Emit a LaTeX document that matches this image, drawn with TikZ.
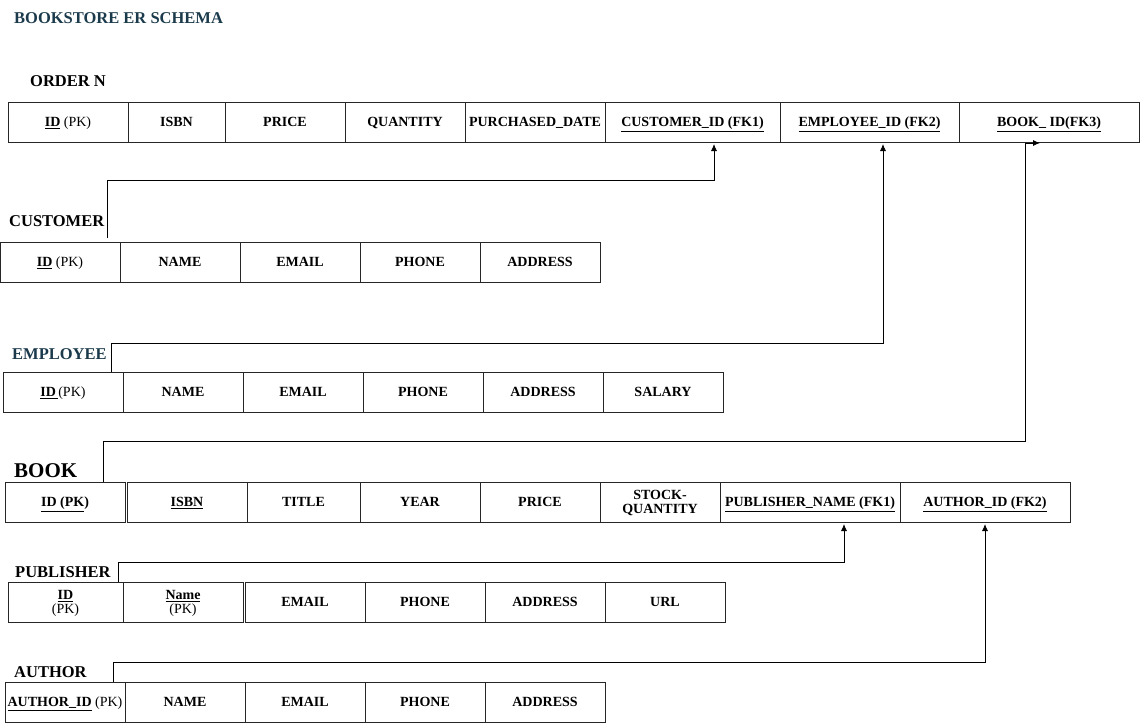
\documentclass[tikz,border=0pt]{standalone}
\usepackage{fontspec}
\setmainfont{Liberation Serif}
\usepackage{tikz}
\usetikzlibrary{positioning, arrows.meta}
\definecolor{titleteal}{HTML}{1B3A4B}

\begin{document}
\begin{tikzpicture}[
  x=1pt, y=-1pt,
  node distance=0pt and 0pt,
  attr/.style={draw=black!85, line width=0.9pt, outer sep=0pt, inner sep=1pt,
    minimum height=40pt, align=center, text height=9.3pt, text depth=0pt,
    font=\fontsize{14}{14}\selectfont\bfseries},
  twoline/.style={text height={}},
  lbl/.style={anchor=west, inner sep=0pt, font=\fontsize{16.5}{18}\selectfont\bfseries},
  fk/.style={-{Latex[length=7pt,width=6pt]}, line width=0.8pt, shorten >=2pt}
]
\useasboundingbox (0,0) rectangle (1140,724);

\node[lbl, text=titleteal] (title) at (14,18) {BOOKSTORE ER SCHEMA};

% order table
\node[lbl] (ord-lbl) at (30,81) {ORDER N};
\node[attr, minimum width=120pt, anchor=north west] (ord-id) at (8,102) {\underline{ID} {\mdseries (PK)}};
\node[attr, minimum width=97pt, right=of ord-id] (ord-isbn) {ISBN};
\node[attr, minimum width=120pt, right=of ord-isbn] (ord-price) {PRICE};
\node[attr, minimum width=120pt, right=of ord-price] (ord-qty) {QUANTITY};
\node[attr, minimum width=140pt, right=of ord-qty] (ord-date) {PURCHASED\_DATE};
\node[attr, minimum width=175pt, right=of ord-date] (ord-cid) {\underline{CUSTOMER\_ID (FK1)}};
\node[attr, minimum width=179pt, right=of ord-cid] (ord-eid) {\underline{EMPLOYEE\_ID (FK2)}};
\node[attr, minimum width=180pt, right=of ord-eid] (ord-bid) {\underline{BOOK\_ ID(FK3)}};

% customer table
\node[lbl] (cust-lbl) at (9,221) {CUSTOMER};
\node[attr, minimum width=120pt, anchor=north west] (cust-id) at (0,242) {\underline{ID} {\mdseries (PK)}};
\node[attr, minimum width=120pt, right=of cust-id] (cust-name) {NAME};
\node[attr, minimum width=120pt, right=of cust-name] (cust-mail) {EMAIL};
\node[attr, minimum width=120pt, right=of cust-mail] (cust-phone) {PHONE};
\node[attr, minimum width=120pt, right=of cust-phone] (cust-addr) {ADDRESS};

% employee table
\node[lbl, text=titleteal] (emp-lbl) at (12,354) {EMPLOYEE};
\node[attr, minimum width=120pt, anchor=north west] (emp-id) at (3,372) {\underline{ID\,}{\mdseries(PK)}};
\node[attr, minimum width=120pt, right=of emp-id] (emp-name) {NAME};
\node[attr, minimum width=120pt, right=of emp-name] (emp-mail) {EMAIL};
\node[attr, minimum width=120pt, right=of emp-mail] (emp-phone) {PHONE};
\node[attr, minimum width=120pt, right=of emp-phone] (emp-addr) {ADDRESS};
\node[attr, minimum width=120pt, right=of emp-addr] (emp-sal) {SALARY};

% book table
\node[lbl, font=\fontsize{21}{24}\selectfont\bfseries] (bk-lbl) at (14,471) {BOOK};
\node[attr, minimum width=120pt, anchor=north west] (bk-id) at (5,482) {\underline{ID (PK}{)}};
\node[attr, minimum width=120pt, right=2pt of bk-id] (bk-isbn) {\underline{ISBN}};
\node[attr, minimum width=113pt, right=of bk-isbn] (bk-title) {TITLE};
\node[attr, minimum width=120pt, right=of bk-title] (bk-year) {YEAR};
\node[attr, minimum width=120pt, right=of bk-year] (bk-price) {PRICE};
\node[attr, twoline, minimum width=120pt, right=of bk-price] (bk-stock) {STOCK-\\QUANTITY};
\node[attr, minimum width=180pt, right=of bk-stock] (bk-pub) {\underline{PUBLISHER\_NAME (FK1)}};
\node[attr, minimum width=170pt, right=of bk-pub] (bk-aid) {\underline{AUTHOR\_ID (FK2)}};

% publisher table
\node[lbl] (pub-lbl) at (15,572) {PUBLISHER};
\node[attr, twoline, minimum width=115pt, anchor=north west] (pub-id) at (8,582) {\underline{ID}\\{\mdseries (PK)}};
\node[attr, twoline, minimum width=120pt, right=of pub-id] (pub-name) {\underline{Name}\\{\mdseries (PK)}};
\node[attr, minimum width=120pt, right=2pt of pub-name] (pub-mail) {EMAIL};
\node[attr, minimum width=120pt, right=of pub-mail] (pub-phone) {PHONE};
\node[attr, minimum width=120pt, right=of pub-phone] (pub-addr) {ADDRESS};
\node[attr, minimum width=120pt, right=of pub-addr] (pub-url) {URL};

% author table
\node[lbl] (auth-lbl) at (14,672) {AUTHOR};
\node[attr, minimum width=120pt, anchor=north west] (auth-id) at (5,682) {\underline{AUTHOR\_ID} {\mdseries (PK)}};
\node[attr, minimum width=120pt, right=of auth-id] (auth-name) {NAME};
\node[attr, minimum width=120pt, right=of auth-name] (auth-mail) {EMAIL};
\node[attr, minimum width=120pt, right=of auth-mail] (auth-phone) {PHONE};
\node[attr, minimum width=120pt, right=of auth-phone] (auth-addr) {ADDRESS};

% foreign keys
\coordinate (cust-out) at (107,238);
\coordinate (emp-out) at (111,372);
\coordinate (bk-out) at (103,482);
\coordinate (pub-out) at (118,582);
\coordinate (auth-out) at (113,682);

\draw[fk] (cust-out) -- ++(0,-58) -| ([xshift=21.5pt]ord-cid.south);
\draw[fk] (emp-out) -- ++(0,-29) -| ([xshift=13.5pt]ord-eid.south);
\draw[fk] (bk-out) -- ++(0,-41) -| ([xshift=-24pt,yshift=-1pt]ord-bid.south) -- ++(17,0);
\draw[fk] (pub-out) -- ++(0,-20) -| ([xshift=34pt]bk-pub.south);
\draw[fk] (auth-out) -- ++(0,-20) -| (bk-aid.south);

\end{tikzpicture}
\end{document}
